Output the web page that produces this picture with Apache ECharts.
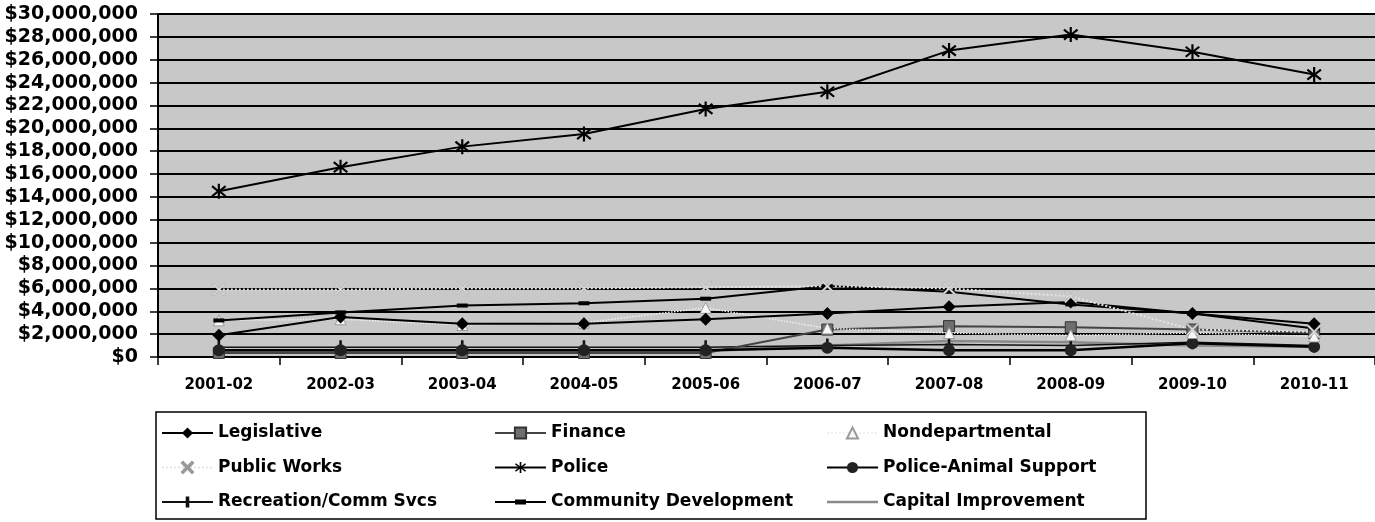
<!DOCTYPE html>
<html>
<head>
<meta charset="utf-8">
<script src="https://cdn.jsdelivr.net/npm/echarts@6/dist/echarts.min.js"></script>
<style>
  html, body { margin: 0; padding: 0; background: #fff; }
  #chart { width: 1375px; height: 522px; }
</style>
</head>
<body>
<div id="chart"></div>
<script>
// fiscal years on the x axis
const years = ['2001-02', '2002-03', '2003-04', '2004-05', '2005-06', '2006-07', '2007-08', '2008-09', '2009-10', '2010-11'];

// budget per department, dollars
const legislative = [1900000, 3500000, 2900000, 2900000, 3300000, 3800000, 4400000, 4800000, 3800000, 2900000];
const finance = [350000, 350000, 350000, 350000, 350000, 2400000, 2700000, 2600000, 2400000, 2100000];
const nondepartmental = [3200000, 3300000, 2800000, 3000000, 4300000, 2500000, 2100000, 1900000, 2100000, 1800000];
const publicWorks = [5900000, 5900000, 6000000, 6000000, 6100000, 6200000, 6000000, 5300000, 2400000, 2200000];
const police = [14500000, 16600000, 18400000, 19500000, 21700000, 23200000, 26800000, 28200000, 26700000, 24700000];
const animalSupport = [600000, 600000, 600000, 600000, 600000, 800000, 600000, 600000, 1200000, 900000];
const recreation = [850000, 850000, 850000, 850000, 850000, 1000000, 1100000, 1000000, 1300000, 1000000];
const communityDev = [3200000, 3900000, 4500000, 4700000, 5100000, 6200000, 5700000, 4600000, 3800000, 2500000];
const capitalImprovement = [500000, 500000, 500000, 500000, 500000, 1000000, 1400000, 1300000, 1000000, 900000];

// y axis ticks
const yMin = 0;
const yMax = 30000000;
const yStep = 2000000;

const FONT = 'DejaVu Sans';

// marker shapes
const CROSS_X = 'path://M0,1L1,0L5,4L9,0L10,1L6,5L10,9L9,10L5,6L1,10L0,9L4,5Z';
const ASTERISK = 'path://M4.3,0H5.7V3.8L8.9,1.1L9.8,2.2L6.4,5L9.8,7.8L8.9,8.9L5.7,6.2V10H4.3V6.2L1.1,8.9L0.2,7.8L3.6,5L0.2,2.2L1.1,1.1L4.3,3.8Z';
const PLUS = 'path://M4.2,0H5.8V4.4H7.5V5.6H5.8V10H4.2V5.6H2.5V4.4H4.2Z';

// legend icons drawn on a 51x14 box (tiny corner dots pin the box size)
const PIN = ' M25,0L25.01,0L25,0.01Z M25,14L25.01,14L25,13.99Z';
const ICON_DASH = 'path://M0,6H51V8H0Z M20,4.5H31V9.5H20Z' + PIN;
const ICON_LINE = 'path://M0,5.8H51V8.2H0Z' + PIN;

function lineSeries(name, data, color, width, symbol, size, extra) {
  return Object.assign({
    name: name,
    type: 'line',
    data: data,
    symbol: symbol,
    symbolSize: size,
    lineStyle: { color: color, width: width },
    itemStyle: { color: color }
  }, extra || {});
}

const chart = echarts.init(document.getElementById('chart'));

const legendBase = {
  orient: 'vertical',
  top: 423,
  padding: 0,
  itemWidth: 51,
  itemHeight: 14,
  itemGap: 14.5,
  textStyle: { fontFamily: FONT, fontWeight: 'bold', fontSize: 17, color: '#000', lineHeight: 20 }
};

chart.setOption({
  animation: false,
  backgroundColor: '#fff',
  grid: {
    left: 158,
    top: 14,
    right: -14,
    bottom: 165,
    show: true,
    backgroundColor: '#c8c8c8',
    borderWidth: 0
  },
  legend: [
    Object.assign({}, legendBase, { left: 161, data: ['Legislative', 'Public Works', 'Recreation/Comm Svcs'] }),
    Object.assign({}, legendBase, { left: 494, data: ['Finance', 'Police', { name: 'Community Development', icon: ICON_DASH }] }),
    Object.assign({}, legendBase, { left: 826, data: ['Nondepartmental', 'Police-Animal Support', { name: 'Capital Improvement', icon: ICON_LINE }] })
  ],
  graphic: [
    {
      type: 'rect',
      shape: { x: 156, y: 412, width: 990, height: 107 },
      style: { fill: 'none', stroke: '#000', lineWidth: 1.5 },
      silent: true
    }
  ],
  xAxis: {
    type: 'category',
    data: years,
    boundaryGap: true,
    axisLine: { lineStyle: { color: '#000', width: 2 } },
    axisTick: { show: true, length: 8, lineStyle: { color: '#000', width: 1.5 } },
    axisLabel: { color: '#000', fontFamily: FONT, fontWeight: 'bold', fontSize: 15, margin: 21 }
  },
  yAxis: {
    type: 'value',
    min: yMin,
    max: yMax,
    interval: yStep,
    axisLine: { show: true, lineStyle: { color: '#000', width: 2 } },
    axisTick: { show: true, length: 8, lineStyle: { color: '#000', width: 1.5 } },
    splitLine: { show: true, lineStyle: { color: '#000', width: 2 } },
    axisLabel: {
      color: '#000',
      fontFamily: FONT,
      fontWeight: 'bold',
      fontSize: 19,
      margin: 20,
      formatter: function (v) { return '$' + v.toLocaleString('en-US'); }
    }
  },
  series: [
    lineSeries('Capital Improvement', capitalImprovement, '#8a8a8a', 2.5, 'none', 0),
    lineSeries('Recreation/Comm Svcs', recreation, '#111', 1.5, PLUS, [8, 14]),
    lineSeries('Finance', finance, '#444', 2, 'rect', 11, { itemStyle: { color: '#6e6e6e', borderColor: '#333', borderWidth: 1 } }),
    lineSeries('Police-Animal Support', animalSupport, '#000', 2.5, 'circle', 12, { itemStyle: { color: '#222' } }),
    lineSeries('Nondepartmental', nondepartmental, '#f0f0f0', 1.5, 'triangle', 11,
      { lineStyle: { color: '#f0f0f0', width: 1.5, type: 'dotted' }, itemStyle: { color: '#f7f7f7', borderColor: '#9a9a9a', borderWidth: 1 } }),
    lineSeries('Legislative', legislative, '#000', 2, 'diamond', 13),
    lineSeries('Community Development', communityDev, '#000', 2, 'rect', [11, 4]),
    lineSeries('Public Works', publicWorks, '#e4e4e4', 2, CROSS_X, 13,
      { lineStyle: { color: '#e4e4e4', width: 2, type: 'dotted' }, itemStyle: { color: '#dcdcdc', borderColor: '#9a9a9a', borderWidth: 0.5 } }),
    lineSeries('Police', police, '#000', 2, ASTERISK, 15)
  ]
});
</script>
</body>
</html>
